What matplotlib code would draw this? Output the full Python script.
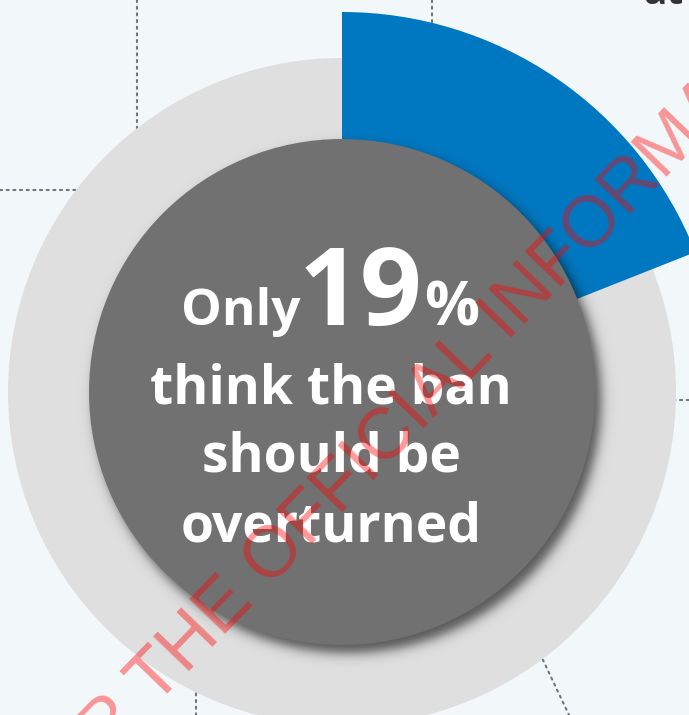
import numpy as np
import matplotlib
matplotlib.use("Agg")
import matplotlib.pyplot as plt
from matplotlib.patches import Circle

# -- data --
share_overturn = 19          # % who think the ban should be overturned
share_rest = 100 - share_overturn
slices = [share_overturn, share_rest]

headline_word = "Only"
headline_value = f"{share_overturn}"
headline_unit = "%"
body_lines = ["think the ban", "should be", "overturned"]
watermark = "FOR THE OFFICIAL INFORMATION"
corner_word = "at"

# -- styling / layout (pixel space, y up) --
W, H = 689, 715
bg = "#f2f7fa"
blue = "#0078c1"
ring_gray = "#dfdfdf"
core_gray = "#717171"
cx, cy = 342, H - 392
r_blue, r_ring, r_core = 380, 334, 253
font = "Open Sans"
weight = "bold"

fig = plt.figure(figsize=(W / 100, H / 100), dpi=100, facecolor=bg)
ax = fig.add_axes([0, 0, 1, 1])
ax.set_facecolor(bg)

# dotted guide lines (decoration behind the ring)
guides = [((137, 137), (H, H - 300)),
          ((432, 432), (H, H - 200)),
          ((0, 200), (H - 190, H - 190)),
          ((560, W), (H - 400, H - 400)),
          ((480, 569), (H - 527, H - 715)),
          ((196, 196), (H - 600, 0))]
for xs, ys in guides:
    ax.plot(xs, ys, color="#6f757b", lw=1.5, ls=(0, (1, 2.2)),
            dash_capstyle="round", zorder=1)

# light gray ring
ax.add_patch(Circle((cx, cy), r_ring, color=ring_gray, zorder=2, lw=0))

# blue slice via pie
ax.pie(slices, colors=[blue, (0, 0, 0, 0)], radius=r_blue, center=(cx, cy),
       startangle=90, counterclock=False,
       wedgeprops=dict(linewidth=0, zorder=3))
for p in ax.patches[-2:]:
    p.set_zorder(3)

# soft shadow for the core circle
yy, xx = np.mgrid[0:H, 0:W]
d = np.hypot(xx + 0.5 - (cx + 6), (H - yy - 0.5) - (cy - 8)) - r_core
alpha = 0.62 * 0.5 * (1 - np.tanh(d / 7.0))
shadow = np.zeros((H, W, 4))
shadow[..., 3] = np.clip(alpha, 0, 1)
ax.imshow(shadow, extent=(0, W, 0, H), zorder=4, interpolation="bilinear")

# dark core circle
ax.add_patch(Circle((cx, cy), r_core, color=core_gray, zorder=5, lw=0))

# headline
base1 = H - 325
ax.text(181, base1, headline_word, color="white", fontsize=37, fontweight=weight,
        family=font, ha="left", va="baseline", zorder=6)
ax.text(299, base1, headline_value, color="white", fontsize=78, fontweight=weight,
        family=font, ha="left", va="baseline", zorder=6)
ax.text(424, base1, headline_unit, color="white", fontsize=44, fontweight=weight,
        family=font, ha="left", va="baseline", zorder=6)

for line, base in zip(body_lines, [403, 472, 542]):
    ax.text(331, H - base, line, color="white", fontsize=38.5, fontweight=weight,
            family=font, ha="center", va="baseline", zorder=6)

# clipped word in the corner
ax.text(643, H - 4, corner_word, color="#333333", fontsize=28, fontweight="bold",
        family=font, ha="left", va="baseline", zorder=6)

# watermark
ax.text(36, -115, watermark, color="red", alpha=0.4, fontsize=52,
        family="Liberation Sans", rotation=46, rotation_mode="anchor",
        ha="left", va="baseline", zorder=10)

ax.set_xlim(0, W)
ax.set_ylim(0, H)
ax.set_aspect("auto")
ax.axis("off")

fig.savefig("out.png", dpi=100, facecolor=bg)
